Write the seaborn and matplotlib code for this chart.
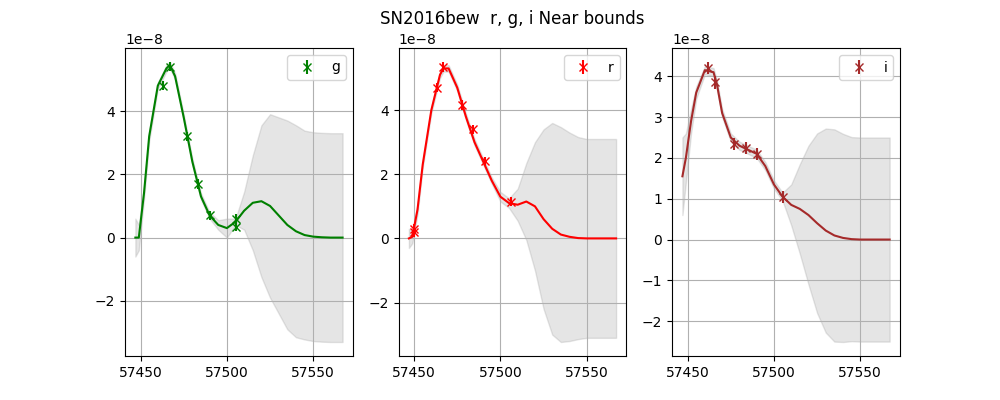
import seaborn as sns
import matplotlib
matplotlib.use('Agg')
import matplotlib.pyplot as plt
import numpy as np

#curve grid (MJD) shared by all bands
mjd = [57447, 57449, 57452, 57455, 57460, 57465, 57467, 57470, 57475, 57480, 57485, 57490,
       57495, 57500, 57505, 57510, 57515, 57520, 57525, 57530, 57535, 57540, 57545, 57550,
       57555, 57560, 57567]

#g band (units of 1e-8)
g_curve = [0, 0, 1.4, 3.2, 4.8, 5.35, 5.45, 5.1, 3.8, 2.4, 1.3, 0.7, 0.4, 0.3, 0.5, 0.85,
           1.1, 1.15, 1.0, 0.7, 0.4, 0.2, 0.08, 0.03, 0.01, 0, 0]
g_band = [0.6, 0.4, 0.2, 0.15, 0.1, 0.1, 0.1, 0.1, 0.1, 0.1, 0.1, 0.1, 0.15, 0.3, 0.1, 0.6,
          1.5, 2.4, 2.9, 3.1, 3.3, 3.35, 3.3, 3.3, 3.3, 3.3, 3.3]
g_t = [57463, 57467, 57477, 57483, 57490, 57505, 57505]
g_f = [4.8, 5.4, 3.2, 1.7, 0.7, 0.6, 0.35]

#r band
r_curve = [0, 0.05, 0.9, 2.3, 4.0, 5.1, 5.3, 5.3, 4.7, 3.8, 3.0, 2.4, 1.8, 1.3, 1.1, 1.05,
           1.15, 1.0, 0.6, 0.3, 0.12, 0.05, 0.01, 0, 0, 0, 0]
r_band = [0.3, 0.2, 0.15, 0.1, 0.1, 0.1, 0.1, 0.1, 0.1, 0.1, 0.1, 0.1, 0.1, 0.15, 0.15, 0.5,
          1.2, 2.0, 2.8, 3.3, 3.35, 3.25, 3.15, 3.1, 3.1, 3.1, 3.1]
r_t = [57450, 57450, 57463, 57467, 57478, 57484, 57491, 57506]
r_f = [0.3, 0.2, 4.7, 5.35, 4.15, 3.4, 2.4, 1.15]

#i band
i_curve = [1.55, 2.0, 2.9, 3.6, 4.15, 4.1, 3.8, 3.1, 2.5, 2.3, 2.2, 2.1, 1.8, 1.35, 1.05,
           0.85, 0.75, 0.6, 0.4, 0.22, 0.1, 0.04, 0.01, 0, 0, 0, 0]
i_band = [0.95, 0.6, 0.3, 0.15, 0.1, 0.1, 0.1, 0.1, 0.1, 0.1, 0.1, 0.1, 0.1, 0.1, 0.1, 0.5,
          1.1, 1.7, 2.2, 2.5, 2.6, 2.55, 2.5, 2.5, 2.5, 2.5, 2.5]
i_t = [57462, 57466, 57477, 57484, 57490, 57505]
i_f = [4.2, 3.85, 2.35, 2.25, 2.1, 1.05]

bands = [('g', 'green', g_curve, g_band, g_t, g_f),
         ('r', 'red', r_curve, r_band, r_t, r_f),
         ('i', 'brown', i_curve, i_band, i_t, i_f)]

fig, axes = plt.subplots(1, 3, figsize=(10, 4), dpi=100)
x = np.array(mjd)
for ax, (name, col, curve, band, t, f) in zip(axes, bands):
    y = np.array(curve) * 1e-8
    b = np.array(band) * 1e-8
    ax.fill_between(x, y - b, y + b, color='grey', alpha=0.2)
    sns.lineplot(x=x, y=y, color=col, ax=ax)
    ax.errorbar(t, np.array(f) * 1e-8, yerr=0.15e-8, fmt='x', color=col, label=name)
    ax.grid(True)
    ax.legend(loc='upper right')
    ax.set_xticks([57450, 57500, 57550])

axes[1].set_title('SN2016bew  r, g, i Near bounds')
plt.savefig('out.png')
